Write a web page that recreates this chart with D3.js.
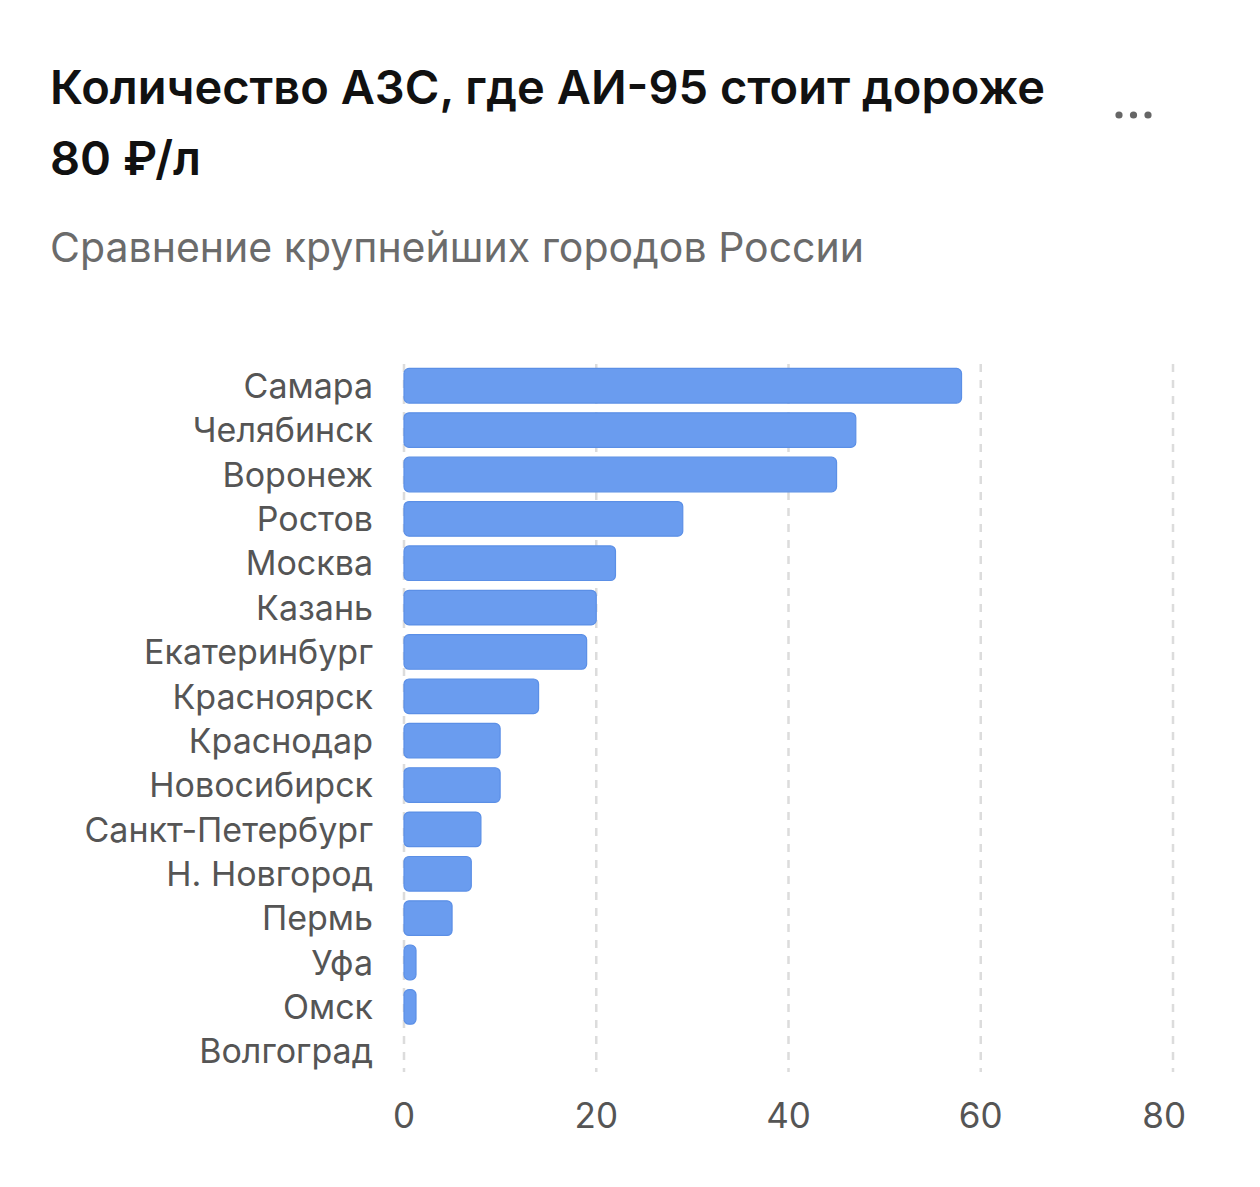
<!DOCTYPE html>
<html><head><meta charset="utf-8">
<script src="https://cdn.jsdelivr.net/npm/d3@7"></script>
<style>
html,body{margin:0;padding:0;background:#fff;}
svg{display:block;font-family:Inter,"Noto Sans",sans-serif;}
</style></head>
<body>
<svg id="chart" width="1260" height="1187"></svg>
<script>
const cities = ["Самара","Челябинск","Воронеж","Ростов","Москва","Казань","Екатеринбург","Красноярск","Краснодар","Новосибирск","Санкт-Петербург","Н. Новгород","Пермь","Уфа","Омск","Волгоград"];
const counts = [58,47,45,29,22,20,19,14,10,10,8,7,5,1,1,0];
const xTicks = [0,20,40,60,80];
const titleLines = ["Количество АЗС, где АИ-95 стоит дороже","80 ₽/л"];
const subtitle = "Сравнение крупнейших городов России";

const svg = d3.select("#chart");
const x = d3.scaleLinear().domain([0,80]).range([404,1173]);
const y = d3.scaleBand().domain(cities).range([364,1073]).paddingInner(0.22).paddingOuter(0.1);

svg.selectAll("text.title").data(titleLines).join("text")
  .attr("class","title")
  .attr("x",50).attr("y",(d,i)=>104+i*71)
  .attr("font-size",47).attr("font-weight",600).attr("fill","#111")
  .text(d=>d);
svg.append("text").attr("x",50).attr("y",262).attr("font-size",41).attr("fill","#6b6b6b").text(subtitle);

svg.selectAll("circle.dot").data([0,1,2]).join("circle")
  .attr("cx",d=>1119+d*14.5).attr("cy",115).attr("r",3.6).attr("fill","#666");

// grid
svg.append("g").selectAll("line").data(xTicks).join("line")
  .attr("x1",d=>x(d)).attr("x2",d=>x(d)).attr("y1",364).attr("y2",1072)
  .attr("stroke","#dcdcdc").attr("stroke-width",2.5).attr("stroke-dasharray","8,8");

// bars
const bh = y.bandwidth();
svg.append("g").selectAll("rect").data(cities.map((c,i)=>({c,v:counts[i]})).filter(d=>d.v>0)).join("rect")
  .attr("x",x(0)).attr("y",d=>y(d.c)).attr("width",d=>Math.max(x(d.v)-x(0),12)).attr("height",bh)
  .attr("rx",5).attr("fill","#6a9cef").attr("stroke","#5b8fe6").attr("stroke-width",1.2);

// labels
svg.append("g").selectAll("text").data(cities).join("text")
  .attr("x",373).attr("y",d=>y(d)+bh/2).attr("dy","0.36em").attr("text-anchor","end")
  .attr("font-size",34).attr("fill","#555").text(d=>d);

// axis labels
svg.append("g").selectAll("text").data(xTicks).join("text")
  .attr("x",(d,i)=>i===xTicks.length-1?1186:x(d)).attr("y",1128)
  .attr("text-anchor",(d,i)=>i===xTicks.length-1?"end":"middle")
  .attr("font-size",35).attr("fill","#555").text(d=>d);
</script>
</body></html>
